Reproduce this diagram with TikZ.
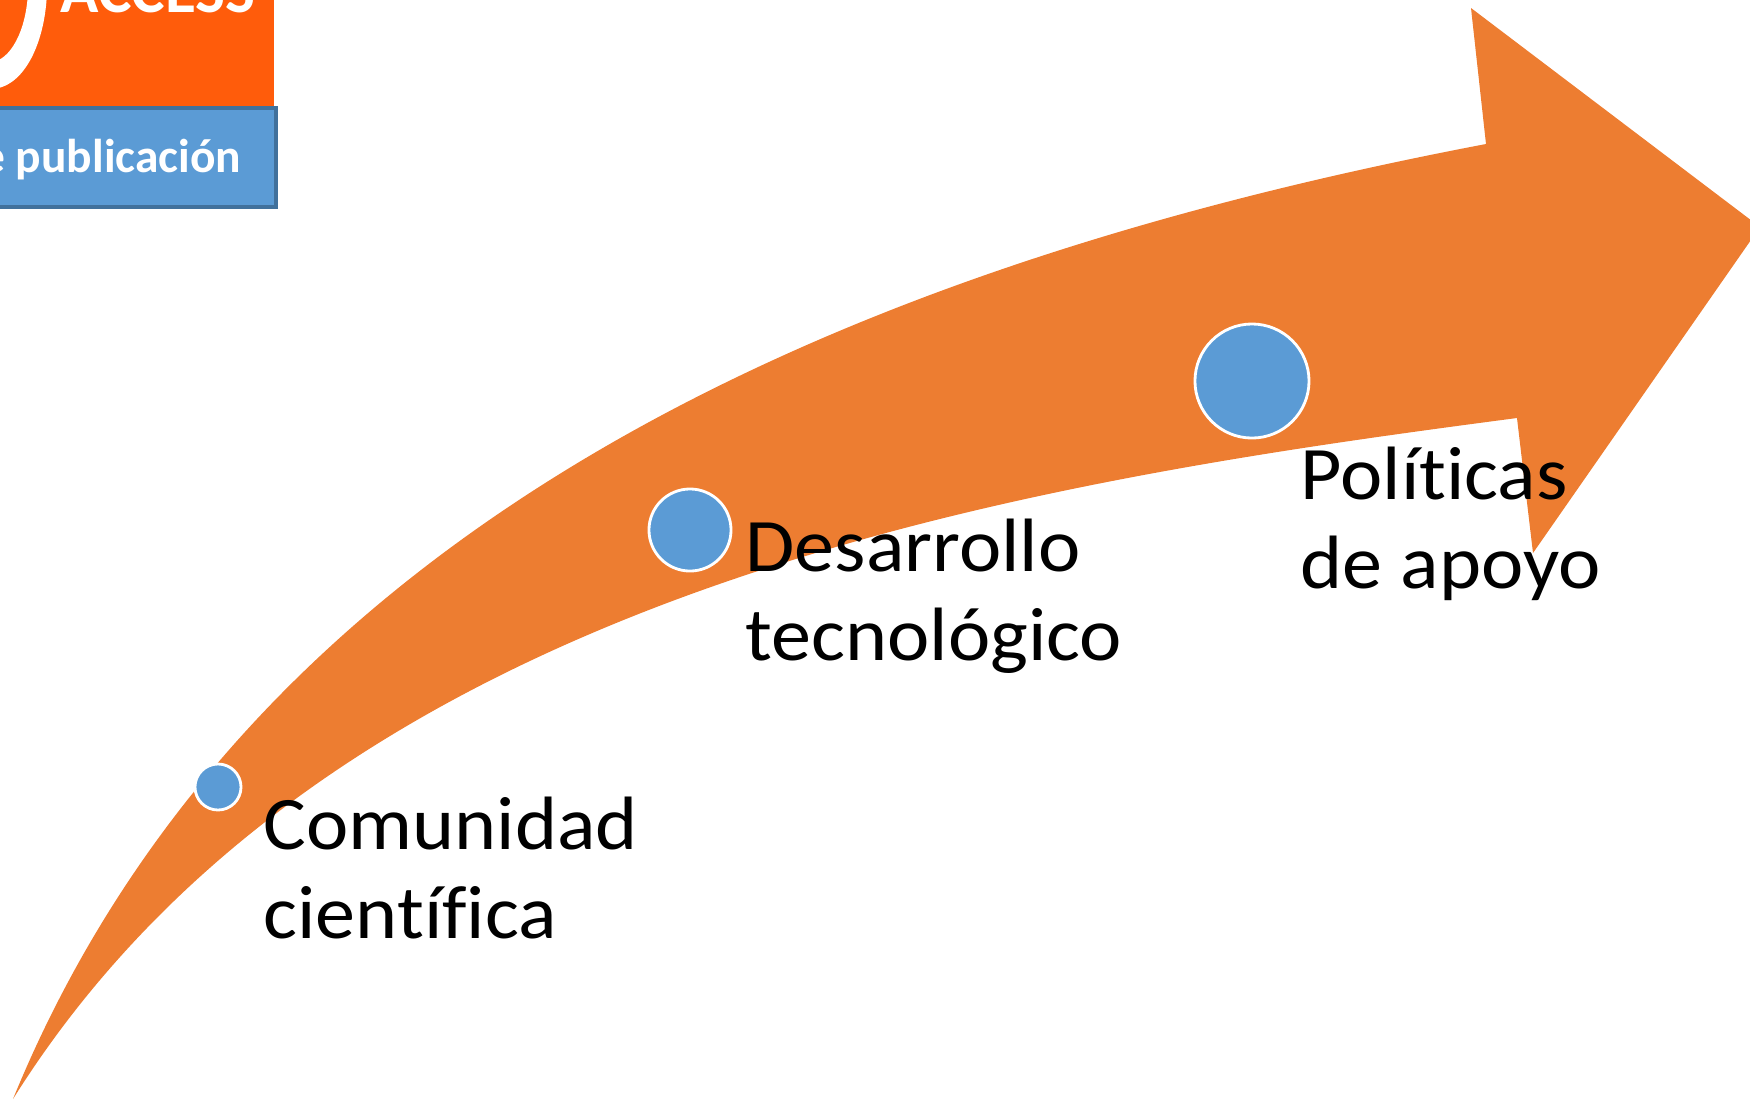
\documentclass[tikz,border=0pt]{standalone}
\usepackage{fontspec}
\setmainfont[Ligatures=NoCommon]{Carlito}
\newfontfamily\labelfont[Ligatures=NoCommon,FakeStretch=1.06]{Carlito}
\definecolor{arrowcol}{HTML}{ED7D31}
\definecolor{dotcol}{HTML}{5B9BD5}
\definecolor{boxline}{HTML}{41719C}
\definecolor{logocol}{HTML}{FF5C0B}
\begin{document}
\begin{tikzpicture}[x=0.01cm,y=-0.01cm,
  main dot/.style={circle,draw=white,thick,fill=dotcol,inner sep=0pt},
  main label/.style={anchor=north west,align=left,inner sep=0pt,font=\labelfont\fontsize{21.5}{25.3}\selectfont}]
  \useasboundingbox (0,0) rectangle (1750,1099);
  \clip (0,0) rectangle (1750,1099);

  \fill[logocol] (-10,-10) rectangle (274,106);
  \fill[white] (47,-10) .. controls (46,40) and (25,89) .. (-10,89)
    -- (-10,62) .. controls (10,62) and (27,30) .. (28,-10) -- cycle;
  \node[anchor=base west,inner sep=0pt,text=white,font=\fontsize{18}{20}\selectfont\bfseries] (access) at (60,12) {ACCESS};
  \node[draw=boxline,line width=1pt,fill=dotcol,anchor=north east,minimum width=3cm,minimum height=0.99cm,inner sep=0pt] (box) at (278,106) {};
  \node[anchor=base east,inner sep=0pt,text=white,font=\fontsize{13.5}{16}\selectfont\bfseries] (pub) at (242,172) {e publicación};

  \fill[arrowcol] (13,1099) .. controls (250,520) and (850,265) .. (1486,144)
    -- (1471,8) -- (1760,227) -- (1533,553) -- (1517,418)
    .. controls (1030,482) and (335,585) .. (13,1099) -- cycle;

  \node[main dot,minimum size=0.46cm] (n1) at (218,787) {};
  \node[main dot,minimum size=0.82cm] (n2) at (690,530) {};
  \node[main dot,minimum size=1.14cm] (n3) at (1252,381) {};

  \node[main label] (t1) at (263,796) {Comunidad\\científica};
  \node[main label] (t2) at (745,518) {Desarrollo\\tecnológico};
  \node[main label] (t3) at (1300,446) {Políticas\\de apoyo};
\end{tikzpicture}
\end{document}
